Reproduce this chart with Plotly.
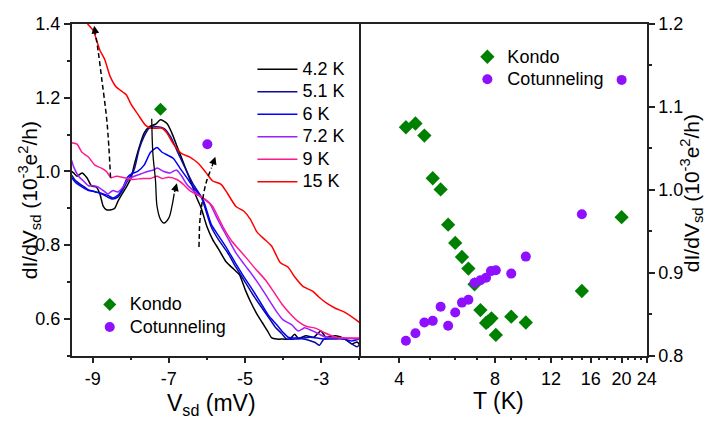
import math
import plotly.graph_objects as go

FONT = "Arial, Liberation Sans, sans-serif"

# ---------------- left panel: dI/dV vs Vsd ----------------
v_42 = [-9.55,-9.5,-9.41,-9.28,-9.15,-9.03,-8.9,-8.81,-8.72,-8.64,-8.51,-8.42,-8.34,-8.25,-8.12,-7.99,-7.91,-7.78,-7.65,-7.5,-7.35,-7.22,-7.05,-6.92,-6.79,-6.66,-6.53,-6.4,-6.28,-6.15,-6.0,-5.85,-5.7,-5.5,-5.3,-5.15,-5.0,-4.85,-4.7,-4.55,-4.4,-4.3,-4.17,-4.0,-3.83,-3.7,-3.6,-3.4,-3.2,-3.01,-2.88,-2.62,-2.37,-2.2,-2.06,-2.0]
g_42 = [1.0,0.996,0.987,0.996,0.983,0.961,0.957,0.939,0.905,0.896,0.896,0.9,0.918,0.935,0.957,0.983,1.017,1.065,1.104,1.122,1.128,1.14,1.13,1.104,1.069,1.035,1.0,0.965,0.931,0.9,0.85,0.815,0.79,0.755,0.735,0.72,0.68,0.645,0.615,0.59,0.565,0.548,0.545,0.545,0.545,0.558,0.547,0.554,0.55,0.567,0.55,0.554,0.545,0.532,0.537,0.53]

v_51 = [-9.55,-9.45,-9.28,-9.11,-8.94,-8.77,-8.6,-8.47,-8.34,-8.21,-8.08,-7.91,-7.78,-7.65,-7.52,-7.35,-7.13,-6.96,-6.84,-6.71,-6.53,-6.36,-6.15,-5.89,-5.68,-5.46,-5.24,-5.03,-4.81,-4.6,-4.39,-4.21,-4.04,-3.91,-3.7,-3.5,-3.31,-3.15,-3.05,-2.93,-2.7,-2.4,-2.2,-2.06,-2.0]
g_51 = [0.99,0.975,0.962,0.95,0.945,0.94,0.93,0.925,0.93,0.95,0.975,1.005,1.06,1.095,1.117,1.121,1.117,1.095,1.069,1.039,1.0,0.965,0.931,0.85,0.812,0.78,0.74,0.705,0.668,0.636,0.605,0.578,0.56,0.545,0.545,0.546,0.541,0.535,0.528,0.545,0.545,0.545,0.532,0.524,0.53]

v_6 = [-9.55,-9.45,-9.28,-9.11,-8.94,-8.77,-8.6,-8.47,-8.34,-8.21,-8.08,-7.95,-7.82,-7.65,-7.48,-7.31,-7.18,-7.01,-6.88,-6.71,-6.53,-6.36,-6.1,-5.89,-5.68,-5.46,-5.24,-5.03,-4.81,-4.6,-4.39,-4.17,-4.0,-3.87,-3.7,-3.5,-3.3,-3.1,-2.9,-2.7,-2.4,-2.2,-2.0]
g_6 = [0.983,0.97,0.958,0.948,0.945,0.94,0.935,0.928,0.935,0.955,0.985,0.995,1.0,1.017,1.052,1.065,1.052,1.043,1.035,1.009,0.983,0.957,0.922,0.857,0.823,0.788,0.749,0.714,0.68,0.645,0.61,0.584,0.563,0.55,0.548,0.548,0.55,0.548,0.545,0.548,0.545,0.54,0.545]

v_72 = [-9.55,-9.5,-9.37,-9.24,-9.11,-8.98,-8.85,-8.72,-8.6,-8.47,-8.34,-8.21,-8.08,-7.91,-7.74,-7.56,-7.39,-7.31,-7.13,-6.96,-6.8,-6.66,-6.53,-6.36,-6.15,-5.93,-5.72,-5.46,-5.24,-5.03,-4.81,-4.6,-4.39,-4.17,-4.0,-3.78,-3.61,-3.5,-3.44,-3.31,-3.14,-2.88,-2.5,-2.0]
g_72 = [1.03,1.013,0.987,0.974,0.961,0.961,0.957,0.948,0.939,0.948,0.944,0.957,0.978,0.987,0.993,1.0,1.004,1.009,1.0,0.996,1.004,0.987,0.965,0.948,0.931,0.913,0.87,0.82,0.779,0.749,0.719,0.688,0.654,0.619,0.597,0.584,0.567,0.572,0.576,0.571,0.563,0.55,0.548,0.545]

v_9 = [-9.55,-9.41,-9.28,-9.11,-8.94,-8.77,-8.64,-8.51,-8.38,-8.16,-7.95,-7.69,-7.48,-7.31,-7.18,-7.01,-6.79,-6.62,-6.45,-6.23,-6.02,-5.85,-5.72,-5.55,-5.37,-5.16,-4.94,-4.73,-4.47,-4.26,-4.04,-3.83,-3.61,-3.4,-3.14,-2.93,-2.62,-2.3,-2.0]
g_9 = [1.078,1.074,1.052,1.039,1.017,1.009,1.0,0.983,0.987,0.983,0.978,0.981,0.981,0.987,0.981,0.984,0.978,0.965,0.948,0.935,0.922,0.905,0.879,0.844,0.814,0.788,0.762,0.736,0.706,0.675,0.641,0.615,0.593,0.58,0.574,0.563,0.55,0.548,0.548]

v_15 = [-9.55,-9.3,-9.15,-8.98,-8.81,-8.68,-8.55,-8.38,-8.12,-7.99,-7.82,-7.61,-7.44,-7.18,-7.05,-6.88,-6.66,-6.45,-6.23,-6.02,-5.85,-5.63,-5.46,-5.24,-5.03,-4.86,-4.69,-4.47,-4.3,-4.08,-3.87,-3.7,-3.48,-3.23,-3.05,-2.84,-2.62,-2.37,-2.06,-2.0]
g_15 = [1.5,1.44,1.403,1.381,1.329,1.303,1.26,1.229,1.208,1.182,1.156,1.125,1.117,1.117,1.104,1.074,1.048,1.039,1.022,0.996,0.974,0.965,0.94,0.905,0.892,0.87,0.836,0.814,0.797,0.753,0.74,0.714,0.688,0.675,0.658,0.641,0.628,0.617,0.595,0.59]

curve_names = ["4.2 K", "5.1 K", "6 K", "7.2 K", "9 K", "15 K"]
curve_colors = ["#000000", "#0a0a9c", "#0000ff", "#9b1fff", "#ff1a8c", "#ff0000"]
curve_v = [v_42, v_51, v_6, v_72, v_9, v_15]
curve_g = [g_42, g_51, g_6, g_72, g_9, g_15]

# markers in the left panel
kondo_left_v = [-7.22]
kondo_left_g = [1.169]
cot_left_v = [-5.99]
cot_left_g = [1.0735]

# arrows in the left panel
arrow_u_v = [-7.45, -7.42, -7.35, -7.31, -7.22, -7.13, -7.0, -6.92, -6.86]
arrow_u_g = [1.143, 1.05, 0.974, 0.905, 0.87, 0.86, 0.874, 0.905, 0.94]
arrow_u_head = (-6.79, 0.968)
dash1_v = [-8.53, -8.62, -8.76, -8.86, -8.93]
dash1_g = [0.983, 1.13, 1.25, 1.33, 1.375]
dash1_head = (-8.96, 1.395)
dash2_v = [-6.21, -6.2, -6.19, -6.12, -6.02, -5.88]
dash2_g = [0.795, 0.83, 0.86, 0.92, 0.97, 1.01]
dash2_head = (-5.78, 1.04)

# ---------------- right panel: peak heights vs T ----------------
t_kondo = [4.2, 4.5, 4.8, 5.1, 5.4, 5.7, 6.0, 6.3, 6.6, 6.9, 7.2, 7.5, 7.6, 7.8, 8.05, 9, 10, 15, 20]
g_kondo = [1.0755, 1.080, 1.0655, 1.014, 1.0005, 0.958, 0.936, 0.919, 0.905, 0.886, 0.855, 0.8395, 0.841, 0.845, 0.825, 0.847, 0.840, 0.878, 0.967]
t_cot = [4.2, 4.5, 4.8, 5.1, 5.4, 5.7, 6.0, 6.3, 6.6, 6.9, 7.2, 7.5, 7.77, 8.05, 9, 10, 15, 20]
g_cot = [0.818, 0.827, 0.840, 0.842, 0.859, 0.836, 0.852, 0.864, 0.8675, 0.888, 0.891, 0.894, 0.902, 0.903, 0.899, 0.9195, 0.9705, 1.1326]

# ticks
vsd_ticks = [-9, -7, -5, -3]
g_left_ticks = [0.6, 0.8, 1.0, 1.2, 1.4]
t_ticks = [4, 8, 12, 16, 20, 24]
t_minor = [3, 5, 6, 7, 9, 10, 11, 13, 14, 15, 17, 18, 19, 21, 22, 23]
g_right_ticks = [0.8, 0.9, 1.0, 1.1, 1.2]

KONDO_C = "#008000"
COT_C = "#8f0fff"
AX_C = "#222222"


def big(s):
    return f"<span style='font-size:18px'>{s}</span>"


fig = go.Figure()

for name, col, v, g in zip(curve_names, curve_colors, curve_v, curve_g):
    fig.add_trace(go.Scatter(x=v, y=g, mode="lines", name=big(name),
                             line=dict(color=col, width=1.5, shape="spline", smoothing=0.6),
                             xaxis="x", yaxis="y", legend="legend"))

# arrows (lines)
fig.add_trace(go.Scatter(x=arrow_u_v, y=arrow_u_g, mode="lines", showlegend=False,
                         line=dict(color="black", width=1.3, shape="spline", smoothing=1.0),
                         xaxis="x", yaxis="y", hoverinfo="skip"))
fig.add_trace(go.Scatter(x=dash1_v, y=dash1_g, mode="lines", showlegend=False,
                         line=dict(color="black", width=1.5, dash="5px,3px", shape="spline"),
                         xaxis="x", yaxis="y", hoverinfo="skip"))
fig.add_trace(go.Scatter(x=dash2_v, y=dash2_g, mode="lines", showlegend=False,
                         line=dict(color="black", width=1.5, dash="5px,3px", shape="spline"),
                         xaxis="x", yaxis="y", hoverinfo="skip"))

fig.add_trace(go.Scatter(x=kondo_left_v, y=kondo_left_g, mode="markers", name=big("Kondo"),
                         marker=dict(symbol="diamond", size=10, color=KONDO_C),
                         xaxis="x", yaxis="y", legend="legend2"))
fig.add_trace(go.Scatter(x=cot_left_v, y=cot_left_g, mode="markers", name=big("Cotunneling"),
                         marker=dict(symbol="circle", size=10, color=COT_C),
                         xaxis="x", yaxis="y", legend="legend2"))

fig.add_trace(go.Scatter(x=t_kondo, y=g_kondo, mode="markers", name=big("Kondo"),
                         marker=dict(symbol="diamond", size=11, color=KONDO_C),
                         xaxis="x2", yaxis="y2", legend="legend3"))
fig.add_trace(go.Scatter(x=t_cot, y=g_cot, mode="markers", name=big("Cotunneling"),
                         marker=dict(symbol="circle", size=10, color=COT_C),
                         xaxis="x2", yaxis="y2", legend="legend3"))

annotations = []
for (hx, hy), tv, tg in [(arrow_u_head, arrow_u_v, arrow_u_g),
                         (dash1_head, dash1_v, dash1_g),
                         (dash2_head, dash2_v, dash2_g)]:
    annotations.append(dict(x=hx, y=hy, ax=tv[-1], ay=tg[-1], xref="x", yref="y",
                            axref="x", ayref="y", text="", showarrow=True,
                            arrowhead=2, arrowsize=1.1, arrowwidth=1.4, arrowcolor="black",
                            standoff=0, startstandoff=0))

YTITLE_FONT = dict(family=FONT, size=21, color="black")
XTITLE_FONT = dict(family=FONT, size=23, color="black")
ytitle = "dI/dV<sub>sd</sub> (10<sup>-3</sup>e<sup>2</sup>/h)"
annotations += [
    dict(text=ytitle, x=30 / 715, y=1 - 200 / 426, xref="paper", yref="paper",
         textangle=-90, showarrow=False, font=YTITLE_FONT, xanchor="center", yanchor="middle"),
    dict(text=ytitle, x=702 / 715, y=1 - 192 / 426, xref="paper", yref="paper",
         textangle=-90, showarrow=False, font=YTITLE_FONT, xanchor="center", yanchor="middle"),
    dict(text="V<sub>sd</sub> (mV)", x=214 / 715, y=1 - 414 / 426, xref="paper", yref="paper",
         showarrow=False, font=XTITLE_FONT, xanchor="center", yanchor="middle"),
    dict(text="T (K)", x=506 / 715, y=1 - 410 / 426, xref="paper", yref="paper",
         showarrow=False, font=XTITLE_FONT, xanchor="center", yanchor="middle"),
]

X0, XM, X1 = 72.7 / 715, 364.5 / 715, 656 / 715
Y0, Y1 = 1 - 362.7 / 426, 1 - 14.7 / 426
TICK_FONT = dict(family=FONT, size=18, color="black")
LEG_FONT = dict(family=FONT, size=15, color="black")

common = dict(showline=True, linecolor=AX_C, linewidth=1.5, showgrid=False,
              zeroline=False, ticks="outside", ticklen=6, tickwidth=1.5, tickcolor=AX_C,
              tickfont=TICK_FONT)

fig.update_layout(
    width=715, height=426,
    margin=dict(l=0, r=0, t=0, b=0),
    paper_bgcolor="white", plot_bgcolor="white",
    font=dict(family=FONT, color="black"),
    xaxis=dict(domain=[X0, XM], range=[-9.55, -2.0], tickmode="array", tickvals=vsd_ticks,
               ticktext=[str(t) for t in vsd_ticks], anchor="y", mirror=True,
               minor=dict(tickmode="linear", tick0=-9, dtick=1, ticks="outside", ticklen=3,
                          tickwidth=1.5, tickcolor=AX_C), **common),
    yaxis=dict(domain=[Y0, Y1], range=[0.5, 1.4], tickmode="array", tickvals=g_left_ticks,
               ticktext=[f"{t:.1f}" for t in g_left_ticks], anchor="x", mirror=True,
               minor=dict(tickmode="linear", tick0=0.5, dtick=0.1, ticks="outside", ticklen=3,
                          tickwidth=1.5, tickcolor=AX_C), **common),
    xaxis2=dict(domain=[XM, X1], type="log", range=[math.log10(3), math.log10(24)],
                tickmode="array", tickvals=t_ticks, ticktext=[str(t) for t in t_ticks],
                anchor="y2", mirror=True,
                minor=dict(tickmode="array", tickvals=t_minor, ticks="outside", ticklen=3,
                           tickwidth=1.5, tickcolor=AX_C), **common),
    yaxis2=dict(domain=[Y0, Y1], range=[0.8, 1.2], side="right", tickmode="array",
                tickvals=g_right_ticks, ticktext=[f"{t:.1f}" for t in g_right_ticks],
                anchor="x2", mirror=False,
                minor=dict(tickmode="linear", tick0=0.8, dtick=0.05, ticks="outside", ticklen=3,
                           tickwidth=1.5, tickcolor=AX_C), **common),
    legend=dict(x=256 / 715, y=1 - 45 / 426, xanchor="left", yanchor="top",
                bgcolor="rgba(0,0,0,0)", font=LEG_FONT, itemwidth=40),
    legend2=dict(x=91 / 715, y=1 - 292 / 426, xanchor="left", yanchor="top",
                 bgcolor="rgba(0,0,0,0)", font=LEG_FONT),
    legend3=dict(x=474 / 715, y=1 - 32 / 426, xanchor="left", yanchor="top",
                 bgcolor="rgba(0,0,0,0)", font=LEG_FONT, itemwidth=30),
    annotations=annotations,
    showlegend=True,
)

fig.write_html("out.html")
